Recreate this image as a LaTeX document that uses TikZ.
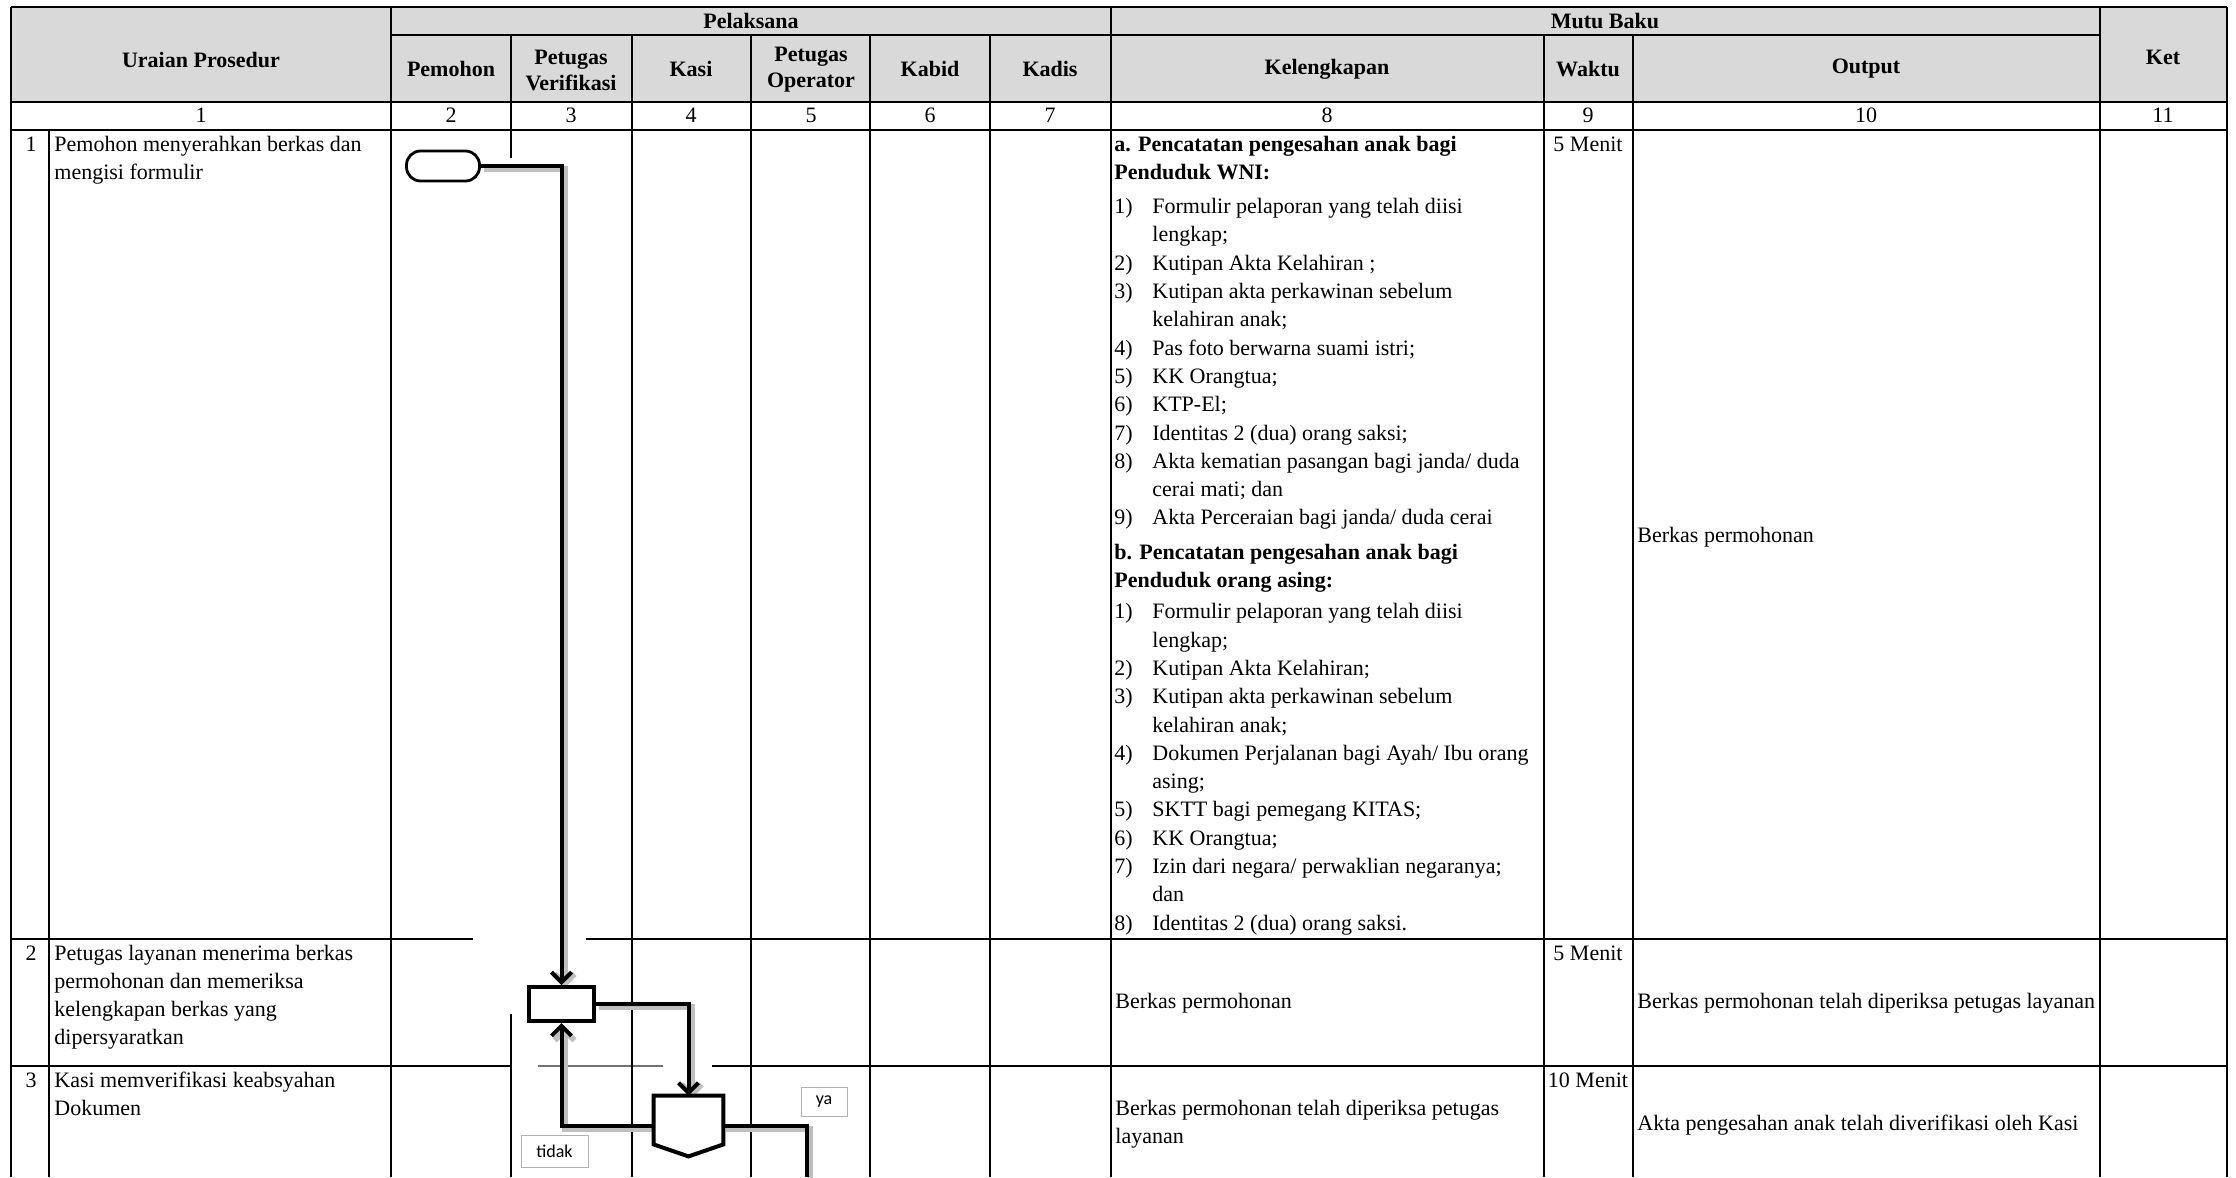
\documentclass[tikz,border=0pt]{standalone}
\usepackage{fontspec}
\setmainfont{Liberation Serif}
\newfontfamily\calibri{Carlito}
\usetikzlibrary{arrows.meta, positioning}

\definecolor{abu}{RGB}{217,217,217}

% teks beberapa baris, garis dasar pada baris pertama
\newcommand{\baris}[1]{\begin{tabular}[t]{@{}l@{}}#1\end{tabular}}

\tikzset{
	garis/.style={line width=1pt},
	kepala/.style={font=\fontsize{11}{13}\selectfont\bfseries, align=center, inner sep=0pt},
	isi/.style={font=\fontsize{11}{14.15}\selectfont, inner sep=0pt, anchor=base west},
	angka/.style={font=\fontsize{11}{14.15}\selectfont, inner sep=0pt, anchor=base},
	terminal/.style={draw, line width=1.4pt, rounded corners=7pt, minimum width=36.5pt, minimum height=15pt, inner sep=0pt},
	proses/.style={draw, line width=2pt, minimum width=32.5pt, minimum height=17pt, inner sep=0pt},
	keputusan/.style={minimum width=34.5pt, minimum height=30pt, inner sep=0pt},
	alur/.style={line width=2pt, preaction={draw=black!25, line width=3pt, transform canvas={xshift=1.5pt, yshift=-1.5pt}}},
	label/.style={draw=black!30, line width=0.5pt, font=\calibri\fontsize{9}{10}\selectfont, inner sep=0pt}
}

\begin{document}
\begin{tikzpicture}[x=0.5pt, y=-0.5pt, >={Straight Barb[length=5pt, width=10pt]}]

	\useasboundingbox (0,0) rectangle (2236,1177);

	% kepala tabel
	\fill[abu] (11,7) rectangle (2227,102);
	\draw[garis] (11,7) -- (2227,7);
	\draw[garis] (391,35) -- (2100,35);
	\draw[garis] (11,102) -- (2227,102);
	\draw[garis] (11,130) -- (2227,130);
	\draw[garis] (11,939) -- (473,939) (586,939) -- (2227,939);
	\draw[garis] (11,1066) -- (511,1066) (712,1066) -- (2227,1066);
	\draw[garis, black!55] (538,1066) -- (663,1066);

	\foreach \x in {11,391,1111,2100,2227}
		\draw[garis] (\x,7) -- (\x,1177);
	\foreach \x in {632,751,870,990,1544,1633}
		\draw[garis] (\x,35) -- (\x,1177);
	\draw[garis] (49,130) -- (49,1177);
	\draw[garis] (511,35) -- (511,158) (511,1014) -- (511,1177);

	\node[kepala] (uraian) at (201,60) {Uraian Prosedur};
	\node[kepala] (pelaksana) at (751,21) {Pelaksana};
	\node[kepala] (mutu) at (1605,21) {Mutu Baku};
	\node[kepala] (ket) at (2163,57) {Ket};
	\node[kepala] (pemohon) at (451,69) {Pemohon};
	\node[kepala] (petver) at (571,70) {Petugas\\Verifikasi};
	\node[kepala] (kasi) at (691,69) {Kasi};
	\node[kepala] (petop) at (811,70) {Petugas\\Operator};
	\node[kepala] (kabid) at (930,69) {Kabid};
	\node[kepala] (kadis) at (1050,69) {Kadis};
	\node[kepala] (lengkap) at (1327,69) {Kelengkapan};
	\node[kepala] (waktu) at (1588,69) {Waktu};
	\node[kepala] (output) at (1866,69) {Output};

	% nomor kolom
	\foreach \x/\n in {201/1, 451/2, 571/3, 691/4, 811/5, 930/6, 1050/7, 1327/8, 1588/9, 1866/10, 2163/11}
		\node[angka] at (\x,123) {\n};

	% baris 1
	\node[angka] (no1) at (31,151) {1};
	\node[isi] (uraian1) at (54,151) {\baris{Pemohon menyerahkan berkas dan\\mengisi formulir}};
	\node[isi] (syarat1) at (1114,151) {\begin{tabular}[t]{@{}p{19pt}@{}l@{}}
		\multicolumn{2}{@{}l@{}}{\bfseries a. Pencatatan pengesahan anak bagi}\\
		\multicolumn{2}{@{}l@{}}{\bfseries Penduduk WNI:}\\[3pt]
		1) & Formulir pelaporan yang telah diisi\\
		   & lengkap;\\
		2) & Kutipan Akta Kelahiran ;\\
		3) & Kutipan akta perkawinan sebelum\\
		   & kelahiran anak;\\
		4) & Pas foto berwarna suami istri;\\
		5) & KK Orangtua;\\
		6) & KTP-El;\\
		7) & Identitas 2 (dua) orang saksi;\\
		8) & Akta kematian pasangan bagi janda/ duda\\
		   & cerai mati; dan\\
		9) & Akta Perceraian bagi janda/ duda cerai\\[3pt]
		\multicolumn{2}{@{}l@{}}{\bfseries b. Pencatatan pengesahan anak bagi}\\
		\multicolumn{2}{@{}l@{}}{\bfseries Penduduk orang asing:}\\[1.5pt]
		1) & Formulir pelaporan yang telah diisi\\
		   & lengkap;\\
		2) & Kutipan Akta Kelahiran;\\
		3) & Kutipan akta perkawinan sebelum\\
		   & kelahiran anak;\\
		4) & Dokumen Perjalanan bagi Ayah/ Ibu orang\\
		   & asing;\\
		5) & SKTT bagi pemegang KITAS;\\
		6) & KK Orangtua;\\
		7) & Izin dari negara/ perwaklian negaranya;\\
		   & dan\\
		8) & Identitas 2 (dua) orang saksi.
	\end{tabular}};
	\node[angka] (waktu1) at (1588,151) {5 Menit};
	\node[isi] (hasil1) at (1637,542) {Berkas permohonan};

	% baris 2
	\node[angka] (no2) at (31,960) {2};
	\node[isi] (uraian2) at (54,960) {\baris{Petugas layanan menerima berkas\\permohonan dan memeriksa\\kelengkapan berkas yang\\dipersyaratkan}};
	\node[isi] (syarat2) at (1115,1008) {Berkas permohonan};
	\node[angka] (waktu2) at (1588,960) {5 Menit};
	\node[isi] (hasil2) at (1637,1008) {Berkas permohonan telah diperiksa petugas layanan};

	% baris 3
	\node[angka] (no3) at (31,1087) {3};
	\node[isi] (uraian3) at (54,1087) {\baris{Kasi memverifikasi keabsyahan\\Dokumen}};
	\node[isi] (syarat3) at (1115,1115) {\baris{Berkas permohonan telah diperiksa petugas\\layanan}};
	\node[angka] (waktu3) at (1588,1087) {10 Menit};
	\node[isi] (hasil3) at (1637,1130) {Akta pengesahan anak telah diverifikasi oleh Kasi};

	% bagan alir
	\node[terminal] (mulai) at (443,166) {};
	\node[proses, fill=white] (periksa) at (561.5,1004) {};
	\node[keputusan] (cek) at (688.5,1126) {};
	\coordinate (lanjut) at (807,1177);

	\draw[alur, ->] (mulai.east) -| (periksa.north);
	\draw[alur, ->] (periksa.east) -| (cek.north);
	\draw[alur, ->] (cek.west) -| (periksa.south);
	\draw[alur] (cek.east) -| (lanjut);

	\draw[line width=2pt, fill=white, line join=miter]
		(cek.north west) -- (cek.north east) -- ([yshift=6pt]cek.south east)
		-- (cek.south) -- ([yshift=6pt]cek.south west) -- cycle;
	\node[proses] at (periksa) {};

	\node[label, minimum width=33.5pt, minimum height=16pt] (tidak) at (554.5,1151) {tidak};
	\node[label, minimum width=23pt, minimum height=14.5pt] (ya) at (824,1101.5) {ya};

\end{tikzpicture}
\end{document}
